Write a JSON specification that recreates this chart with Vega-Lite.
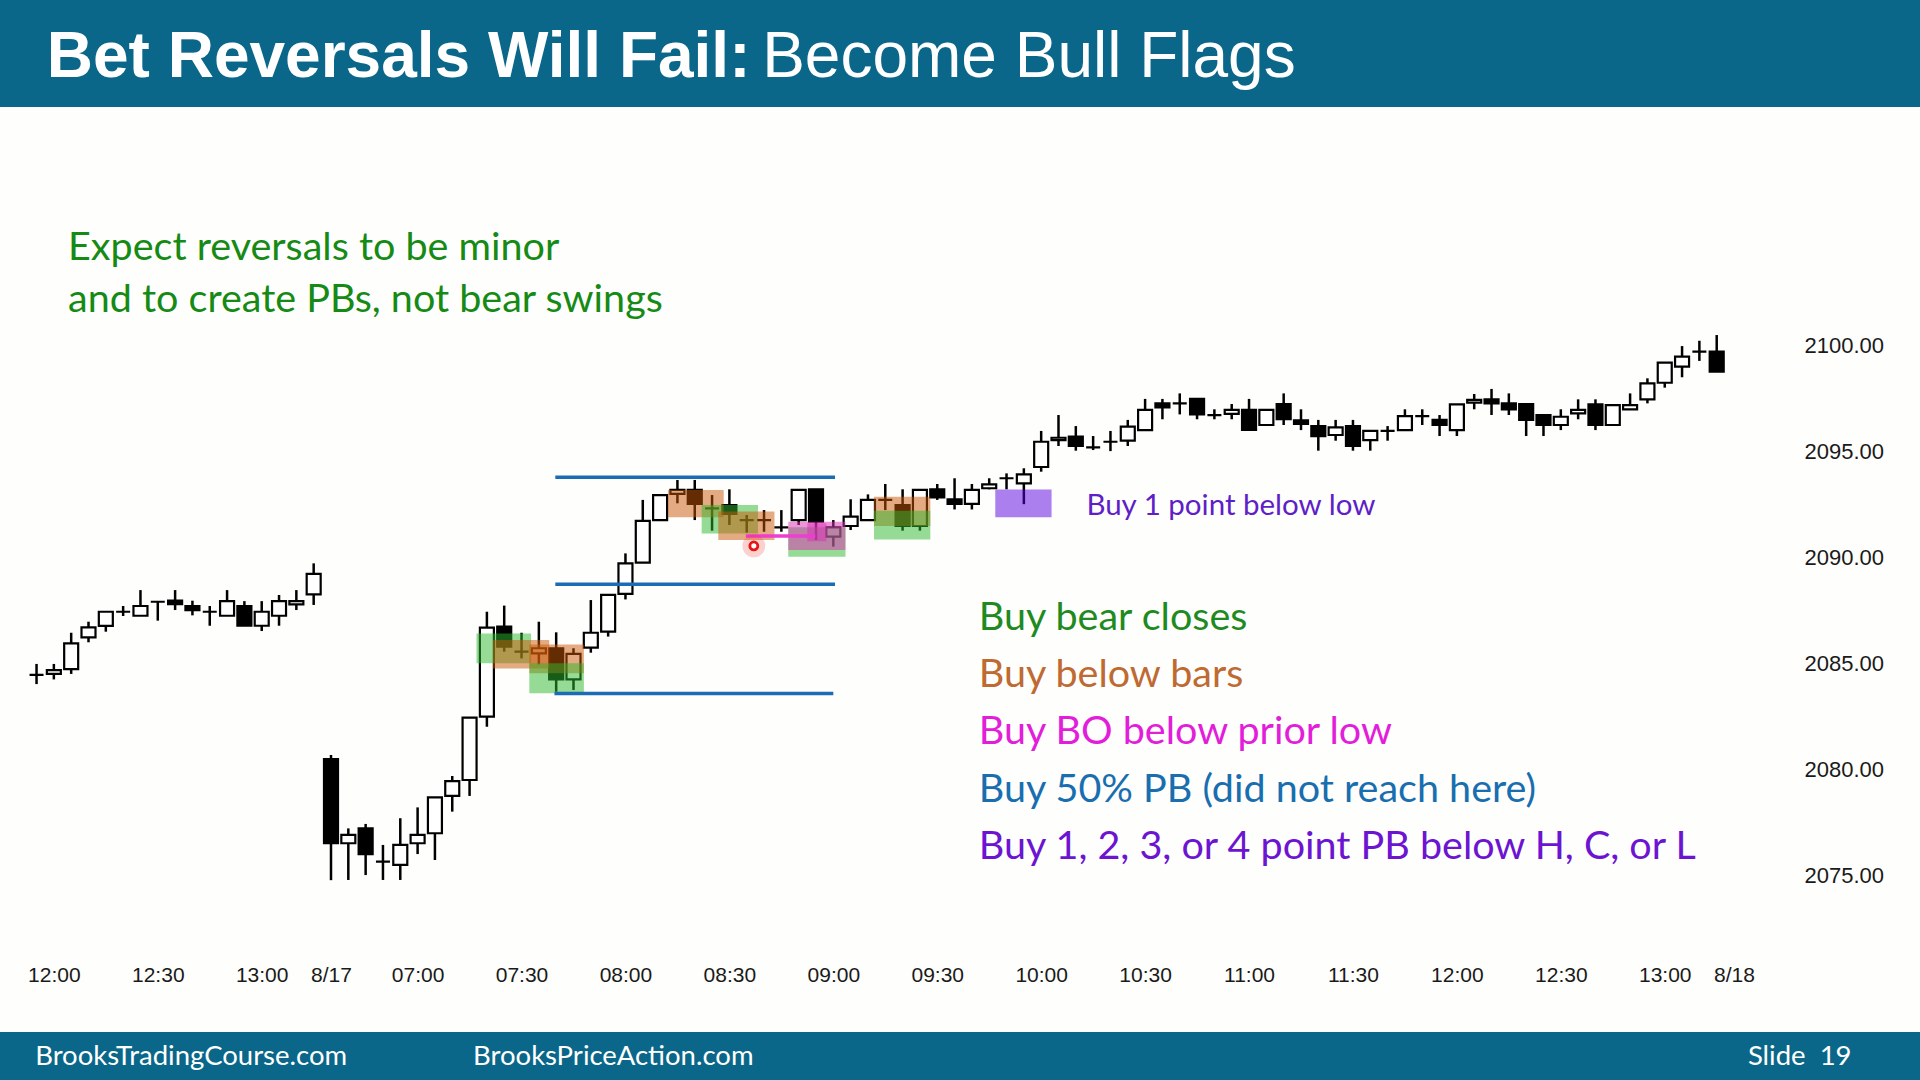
{
  "$schema": "https://vega.github.io/schema/vega-lite/v6.json",
  "width": 1920,
  "height": 925,
  "autosize": {"type": "none"},
  "padding": {"left": 0, "top": 107, "right": 0, "bottom": 48},
  "background": "#0A6789",
  "view": {"fill": "#FEFEFC", "stroke": null},
  "datasets": {
    "bars": [
      {"i":0,"o":2084.45,"h":2084.97,"l":2084.02,"c":2084.45},
      {"i":1,"o":2084.50,"h":2084.97,"l":2084.24,"c":2084.68},
      {"i":2,"o":2084.73,"h":2086.44,"l":2084.50,"c":2085.94},
      {"i":3,"o":2086.22,"h":2086.96,"l":2085.99,"c":2086.69},
      {"i":4,"o":2086.76,"h":2087.43,"l":2086.49,"c":2087.43},
      {"i":5,"o":2087.43,"h":2087.70,"l":2087.23,"c":2087.43},
      {"i":6,"o":2087.24,"h":2088.45,"l":2087.24,"c":2087.70},
      {"i":7,"o":2087.90,"h":2087.90,"l":2087.01,"c":2087.90},
      {"i":8,"o":2087.95,"h":2088.45,"l":2087.51,"c":2087.79},
      {"i":9,"o":2087.70,"h":2087.95,"l":2087.26,"c":2087.51},
      {"i":10,"o":2087.43,"h":2087.70,"l":2086.77,"c":2087.43},
      {"i":11,"o":2087.24,"h":2088.45,"l":2087.24,"c":2087.93},
      {"i":12,"o":2087.70,"h":2087.93,"l":2086.77,"c":2086.77},
      {"i":13,"o":2086.77,"h":2087.93,"l":2086.52,"c":2087.43},
      {"i":14,"o":2087.24,"h":2088.22,"l":2086.77,"c":2087.93},
      {"i":15,"o":2087.78,"h":2088.45,"l":2087.51,"c":2087.93},
      {"i":16,"o":2088.25,"h":2089.71,"l":2087.75,"c":2089.21},
      {"i":17,"o":2080.48,"h":2080.68,"l":2074.78,"c":2076.52},
      {"i":18,"o":2076.52,"h":2077.22,"l":2074.79,"c":2076.91},
      {"i":19,"o":2077.22,"h":2077.43,"l":2075.02,"c":2076.01},
      {"i":20,"o":2075.65,"h":2076.44,"l":2074.79,"c":2075.65},
      {"i":21,"o":2075.50,"h":2077.70,"l":2074.79,"c":2076.44},
      {"i":22,"o":2076.52,"h":2078.21,"l":2076.01,"c":2076.91},
      {"i":23,"o":2076.99,"h":2078.68,"l":2075.73,"c":2078.68},
      {"i":24,"o":2078.75,"h":2079.69,"l":2078.01,"c":2079.45},
      {"i":25,"o":2079.50,"h":2082.44,"l":2078.75,"c":2082.44},
      {"i":26,"o":2082.49,"h":2087.43,"l":2082.01,"c":2086.68},
      {"i":27,"o":2086.73,"h":2087.72,"l":2085.55,"c":2085.78},
      {"i":28,"o":2085.55,"h":2086.44,"l":2085.23,"c":2085.55},
      {"i":29,"o":2085.47,"h":2086.96,"l":2084.95,"c":2085.71},
      {"i":30,"o":2085.71,"h":2086.46,"l":2083.66,"c":2084.24},
      {"i":31,"o":2084.24,"h":2085.71,"l":2083.74,"c":2085.44},
      {"i":32,"o":2085.74,"h":2087.98,"l":2085.50,"c":2086.44},
      {"i":33,"o":2086.49,"h":2088.22,"l":2086.26,"c":2088.22},
      {"i":34,"o":2088.27,"h":2090.18,"l":2088.01,"c":2089.71},
      {"i":35,"o":2089.74,"h":2092.70,"l":2089.74,"c":2091.71},
      {"i":36,"o":2091.75,"h":2092.93,"l":2091.75,"c":2092.93},
      {"i":37,"o":2092.98,"h":2093.64,"l":2092.54,"c":2093.17},
      {"i":38,"o":2093.17,"h":2093.64,"l":2091.75,"c":2092.51},
      {"i":39,"o":2092.30,"h":2092.93,"l":2091.25,"c":2092.30},
      {"i":40,"o":2092.46,"h":2093.20,"l":2091.52,"c":2092.04},
      {"i":41,"o":2091.75,"h":2091.99,"l":2091.16,"c":2091.75},
      {"i":42,"o":2091.75,"h":2092.22,"l":2091.20,"c":2091.75},
      {"i":43,"o":2091.41,"h":2092.22,"l":2091.20,"c":2091.41},
      {"i":44,"o":2091.75,"h":2093.17,"l":2091.52,"c":2093.17},
      {"i":45,"o":2093.20,"h":2093.20,"l":2090.81,"c":2091.67},
      {"i":46,"o":2090.97,"h":2091.75,"l":2090.50,"c":2091.41},
      {"i":47,"o":2091.47,"h":2092.73,"l":2091.28,"c":2091.91},
      {"i":48,"o":2091.75,"h":2092.96,"l":2091.75,"c":2092.70},
      {"i":49,"o":2092.70,"h":2093.45,"l":2092.22,"c":2092.70},
      {"i":50,"o":2092.46,"h":2093.20,"l":2091.25,"c":2091.47},
      {"i":51,"o":2091.47,"h":2093.17,"l":2091.25,"c":2093.17},
      {"i":52,"o":2093.20,"h":2093.45,"l":2092.70,"c":2092.82},
      {"i":53,"o":2092.73,"h":2093.72,"l":2092.25,"c":2092.51},
      {"i":54,"o":2092.51,"h":2093.45,"l":2092.25,"c":2093.17},
      {"i":55,"o":2093.25,"h":2093.72,"l":2093.20,"c":2093.43},
      {"i":56,"o":2093.72,"h":2093.95,"l":2093.20,"c":2093.72},
      {"i":57,"o":2093.48,"h":2094.19,"l":2092.50,"c":2093.90},
      {"i":58,"o":2094.25,"h":2095.95,"l":2094.03,"c":2095.44},
      {"i":59,"o":2095.52,"h":2096.70,"l":2095.24,"c":2095.63},
      {"i":60,"o":2095.68,"h":2096.18,"l":2095.02,"c":2095.24},
      {"i":61,"o":2095.18,"h":2095.71,"l":2095.05,"c":2095.18},
      {"i":62,"o":2095.44,"h":2095.95,"l":2095.00,"c":2095.44},
      {"i":63,"o":2095.49,"h":2096.47,"l":2095.24,"c":2096.15},
      {"i":64,"o":2095.99,"h":2097.46,"l":2095.99,"c":2096.94},
      {"i":65,"o":2097.25,"h":2097.46,"l":2096.50,"c":2097.06},
      {"i":66,"o":2097.25,"h":2097.72,"l":2096.73,"c":2097.25},
      {"i":67,"o":2097.46,"h":2097.46,"l":2096.50,"c":2096.73},
      {"i":68,"o":2096.70,"h":2096.97,"l":2096.50,"c":2096.70},
      {"i":69,"o":2096.75,"h":2097.22,"l":2096.50,"c":2096.94},
      {"i":70,"o":2096.94,"h":2097.46,"l":2096.00,"c":2096.00},
      {"i":71,"o":2096.23,"h":2096.94,"l":2096.23,"c":2096.94},
      {"i":72,"o":2097.22,"h":2097.72,"l":2096.23,"c":2096.50},
      {"i":73,"o":2096.45,"h":2096.97,"l":2095.99,"c":2096.28},
      {"i":74,"o":2096.18,"h":2096.47,"l":2095.02,"c":2095.71},
      {"i":75,"o":2095.76,"h":2096.47,"l":2095.49,"c":2096.12},
      {"i":76,"o":2096.18,"h":2096.47,"l":2095.02,"c":2095.24},
      {"i":77,"o":2095.52,"h":2095.95,"l":2095.02,"c":2095.95},
      {"i":78,"o":2095.95,"h":2096.18,"l":2095.49,"c":2095.95},
      {"i":79,"o":2095.99,"h":2096.97,"l":2095.99,"c":2096.65},
      {"i":80,"o":2096.65,"h":2096.97,"l":2096.23,"c":2096.65},
      {"i":81,"o":2096.47,"h":2096.70,"l":2095.71,"c":2096.23},
      {"i":82,"o":2095.99,"h":2097.20,"l":2095.71,"c":2097.20},
      {"i":83,"o":2097.28,"h":2097.69,"l":2096.97,"c":2097.41},
      {"i":84,"o":2097.44,"h":2097.93,"l":2096.70,"c":2097.25},
      {"i":85,"o":2097.25,"h":2097.72,"l":2096.70,"c":2096.97},
      {"i":86,"o":2097.22,"h":2097.22,"l":2095.71,"c":2096.47},
      {"i":87,"o":2096.70,"h":2096.70,"l":2095.71,"c":2096.23},
      {"i":88,"o":2096.23,"h":2096.97,"l":2095.99,"c":2096.62},
      {"i":89,"o":2096.78,"h":2097.44,"l":2096.50,"c":2096.94},
      {"i":90,"o":2097.20,"h":2097.44,"l":2095.99,"c":2096.23},
      {"i":91,"o":2096.23,"h":2097.17,"l":2096.23,"c":2097.17},
      {"i":92,"o":2096.97,"h":2097.72,"l":2096.97,"c":2097.17},
      {"i":93,"o":2097.44,"h":2098.43,"l":2097.25,"c":2098.19},
      {"i":94,"o":2098.22,"h":2099.17,"l":2097.99,"c":2099.17},
      {"i":95,"o":2098.98,"h":2099.95,"l":2098.48,"c":2099.45},
      {"i":96,"o":2099.69,"h":2100.20,"l":2099.25,"c":2099.69},
      {"i":97,"o":2099.69,"h":2100.47,"l":2098.74,"c":2098.74}
    ],
    "boxes": [
      {"i0":25.4,"i1":28.55,"lo":2085.0,"hi":2086.41,"kind":"bear"},
      {"i0":26.35,"i1":29.6,"lo":2084.76,"hi":2086.1,"kind":"below"},
      {"i0":28.45,"i1":31.6,"lo":2084.53,"hi":2085.89,"kind":"below"},
      {"i0":28.45,"i1":31.6,"lo":2083.59,"hi":2085.0,"kind":"bear"},
      {"i0":36.45,"i1":39.67,"lo":2091.88,"hi":2093.17,"kind":"below"},
      {"i0":38.4,"i1":41.65,"lo":2091.12,"hi":2092.46,"kind":"bear"},
      {"i0":39.36,"i1":42.6,"lo":2090.81,"hi":2092.15,"kind":"below"},
      {"i0":43.4,"i1":46.7,"lo":2090.02,"hi":2091.41,"kind":"bear"},
      {"i0":43.4,"i1":46.7,"lo":2090.34,"hi":2091.67,"kind":"bo"},
      {"i0":44.5,"i1":45.6,"lo":2090.75,"hi":2091.6,"kind":"bo"},
      {"i0":48.35,"i1":51.6,"lo":2091.47,"hi":2092.85,"kind":"below"},
      {"i0":48.35,"i1":51.6,"lo":2090.84,"hi":2092.19,"kind":"bear"},
      {"i0":55.35,"i1":58.6,"lo":2091.88,"hi":2093.19,"kind":"pb"}
    ],
    "lines": [
      {"i0":29.95,"i1":46.1,"p":2093.77,"kind":"range"},
      {"i0":29.95,"i1":46.1,"p":2088.72,"kind":"range"},
      {"i0":29.9,"i1":46.0,"p":2083.58,"kind":"range"},
      {"i0":40.95,"i1":44.96,"p":2091.0,"kind":"bo"}
    ],
    "marker": [
      {"i":41.41,"p":2090.53}
    ],
    "header": [
      {"i":0.59,"p":2112.63,"text":"Bet Reversals Will Fail:","part":"lead"},
      {"i":41.89,"p":2112.63,"text":"Become Bull Flags","part":"rest"}
    ],
    "notes": [
      {"i":1.82,"p":2104.55,"text":"Expect reversals to be minor","kind":"expect"},
      {"i":1.82,"p":2102.12,"text":"and to create PBs, not bear swings","kind":"expect"},
      {"i":54.4,"p":2087.12,"text":"Buy bear closes","kind":"bear"},
      {"i":54.4,"p":2084.46,"text":"Buy below bars","kind":"below"},
      {"i":54.4,"p":2081.75,"text":"Buy BO below prior low","kind":"bo"},
      {"i":54.4,"p":2079.04,"text":"Buy 50% PB (did not reach here)","kind":"half"},
      {"i":54.4,"p":2076.33,"text":"Buy 1, 2, 3, or 4 point PB below H, C, or L","kind":"pb"},
      {"i":60.61,"p":2092.43,"text":"Buy 1 point below low","kind":"pb1"}
    ],
    "footer": [
      {"i":-0.08,"p":2066.47,"text":"BrooksTradingCourse.com"},
      {"i":25.2,"p":2066.47,"text":"BrooksPriceAction.com"},
      {"i":98.8,"p":2066.47,"text":"Slide\u00a0 19"}
    ]
  },
  "layer": [
    {
      "data": {"name": "bars"},
      "mark": {"type": "rule", "stroke": "#000000", "strokeWidth": 2.5},
      "encoding": {
        "x": {
          "field": "i", "type": "quantitative",
          "scale": {"domain": [-1.8206, 108.448], "nice": false, "zero": false},
          "axis": {
            "title": null, "orient": "bottom", "offset": -57,
            "values": [1,7,13,17,22,28,34,40,46,52,58,64,70,76,82,88,94,98],
            "labelExpr": "['12:00','12:30','13:00','8/17','07:00','07:30','08:00','08:30','09:00','09:30','10:00','10:30','11:00','11:30','12:00','12:30','13:00','8/18'][indexof([1,7,13,17,22,28,34,40,46,52,58,64,70,76,82,88,94,98], datum.value)]",
            "labelOverlap": false, "labelBound": false, "labelFlush": false,
            "ticks": false, "tickSize": 0, "domain": false, "grid": false,
            "labelPadding": 0, "labelBaseline": "middle",
            "labelFont": "Liberation Sans", "labelFontSize": 21, "labelColor": "#1A1A1A"
          }
        },
        "y": {
          "field": "l", "type": "quantitative",
          "scale": {"domain": [2067.625, 2111.216], "nice": false, "zero": false},
          "axis": {
            "title": null, "orient": "right", "offset": -116,
            "values": [2075, 2080, 2085, 2090, 2095, 2100],
            "format": ".2f",
            "labelOverlap": false, "labelBound": false, "labelFlush": false,
            "ticks": false, "tickSize": 0, "domain": false, "grid": false,
            "labelPadding": 0, "labelAlign": "left", "labelBaseline": "middle",
            "labelFont": "Liberation Sans", "labelFontSize": 22, "labelColor": "#1A1A1A"
          }
        },
        "y2": {"field": "h"}
      }
    },
    {
      "data": {"name": "bars"},
      "mark": {"type": "bar", "width": 14, "stroke": "#000000", "strokeWidth": 2.2},
      "encoding": {
        "x": {"field": "i", "type": "quantitative", "scale": {"domain": [-1.8206, 108.448], "nice": false, "zero": false}, "axis": {"title": null}},
        "y": {"field": "o", "type": "quantitative", "scale": {"domain": [2067.625, 2111.216], "nice": false, "zero": false}, "axis": {"title": null}},
        "y2": {"field": "c"},
        "fill": {"condition": {"test": "datum.c < datum.o", "value": "#000000"}, "value": "#FFFFFF"}
      }
    },
    {
      "data": {"name": "boxes"},
      "mark": {"type": "rect", "fillOpacity": 0.5, "strokeWidth": 0},
      "encoding": {
        "x": {"field": "i0", "type": "quantitative", "scale": {"domain": [-1.8206, 108.448], "nice": false, "zero": false}, "axis": {"title": null}},
        "x2": {"field": "i1"},
        "y": {"field": "lo", "type": "quantitative", "scale": {"domain": [2067.625, 2111.216], "nice": false, "zero": false}, "axis": {"title": null}},
        "y2": {"field": "hi"},
        "fill": {"field": "kind", "type": "nominal", "legend": null,
          "scale": {"domain": ["bear", "below", "bo", "pb"], "range": ["#2DB82D", "#C95808", "#DE2BB8", "#5A00E1"]}}
      }
    },
    {
      "data": {"name": "lines"},
      "mark": {"type": "rule", "strokeWidth": 3.5},
      "encoding": {
        "x": {"field": "i0", "type": "quantitative", "scale": {"domain": [-1.8206, 108.448], "nice": false, "zero": false}, "axis": {"title": null}},
        "x2": {"field": "i1"},
        "y": {"field": "p", "type": "quantitative", "scale": {"domain": [2067.625, 2111.216], "nice": false, "zero": false}, "axis": {"title": null}},
        "stroke": {"field": "kind", "type": "nominal", "legend": null,
          "scale": {"domain": ["range", "bo"], "range": ["#1C6CB3", "#EE3DCF"]}}
      }
    },
    {
      "data": {"name": "marker"},
      "mark": {"type": "point", "shape": "circle", "filled": true, "fill": "#F03030", "opacity": 0.22, "size": 520, "strokeWidth": 0},
      "encoding": {
        "x": {"field": "i", "type": "quantitative", "scale": {"domain": [-1.8206, 108.448], "nice": false, "zero": false}, "axis": {"title": null}},
        "y": {"field": "p", "type": "quantitative", "scale": {"domain": [2067.625, 2111.216], "nice": false, "zero": false}, "axis": {"title": null}}
      }
    },
    {
      "data": {"name": "marker"},
      "mark": {"type": "point", "shape": "circle", "filled": false, "fill": "#FFFFFF", "fillOpacity": 1, "stroke": "#E81414", "strokeWidth": 2.8, "opacity": 1, "size": 64},
      "encoding": {
        "x": {"field": "i", "type": "quantitative", "scale": {"domain": [-1.8206, 108.448], "nice": false, "zero": false}, "axis": {"title": null}},
        "y": {"field": "p", "type": "quantitative", "scale": {"domain": [2067.625, 2111.216], "nice": false, "zero": false}, "axis": {"title": null}}
      }
    },
    {
      "data": {"name": "notes"},
      "transform": [{"filter": "datum.kind != 'pb1'"}],
      "mark": {"type": "text", "align": "left", "baseline": "middle", "font": "Lato", "fontSize": 39.5},
      "encoding": {
        "x": {"field": "i", "type": "quantitative", "scale": {"domain": [-1.8206, 108.448], "nice": false, "zero": false}, "axis": {"title": null}},
        "y": {"field": "p", "type": "quantitative", "scale": {"domain": [2067.625, 2111.216], "nice": false, "zero": false}, "axis": {"title": null}},
        "text": {"field": "text"},
        "color": {"field": "kind", "type": "nominal", "legend": null,
          "scale": {"domain": ["expect", "bear", "below", "bo", "half", "pb", "pb1"],
                    "range": ["#158A15", "#1F8A1F", "#BE6A32", "#E21EDA", "#196EAF", "#6C14D2", "#5F1EC8"]}}
      }
    },
    {
      "data": {"name": "notes"},
      "transform": [{"filter": "datum.kind == 'pb1'"}],
      "mark": {"type": "text", "align": "left", "baseline": "middle", "font": "Lato", "fontSize": 29.5},
      "encoding": {
        "x": {"field": "i", "type": "quantitative", "scale": {"domain": [-1.8206, 108.448], "nice": false, "zero": false}, "axis": {"title": null}},
        "y": {"field": "p", "type": "quantitative", "scale": {"domain": [2067.625, 2111.216], "nice": false, "zero": false}, "axis": {"title": null}},
        "text": {"field": "text"},
        "color": {"field": "kind", "type": "nominal", "legend": null,
          "scale": {"domain": ["expect", "bear", "below", "bo", "half", "pb", "pb1"],
                    "range": ["#158A15", "#1F8A1F", "#BE6A32", "#E21EDA", "#196EAF", "#6C14D2", "#5F1EC8"]}}
      }
    },
    {
      "data": {"name": "header"},
      "transform": [{"filter": "datum.part == 'lead'"}],
      "mark": {"type": "text", "align": "left", "baseline": "alphabetic", "font": "Liberation Sans", "fontSize": 64, "fontWeight": "bold", "fill": "#FFFFFF"},
      "encoding": {
        "x": {"field": "i", "type": "quantitative", "scale": {"domain": [-1.8206, 108.448], "nice": false, "zero": false}, "axis": {"title": null}},
        "y": {"field": "p", "type": "quantitative", "scale": {"domain": [2067.625, 2111.216], "nice": false, "zero": false}, "axis": {"title": null}},
        "text": {"field": "text"}
      }
    },
    {
      "data": {"name": "header"},
      "transform": [{"filter": "datum.part == 'rest'"}],
      "mark": {"type": "text", "align": "left", "baseline": "alphabetic", "font": "Liberation Sans", "fontSize": 64, "fontWeight": "normal", "fill": "#FFFFFF"},
      "encoding": {
        "x": {"field": "i", "type": "quantitative", "scale": {"domain": [-1.8206, 108.448], "nice": false, "zero": false}, "axis": {"title": null}},
        "y": {"field": "p", "type": "quantitative", "scale": {"domain": [2067.625, 2111.216], "nice": false, "zero": false}, "axis": {"title": null}},
        "text": {"field": "text"}
      }
    },
    {
      "data": {"name": "footer"},
      "mark": {"type": "text", "align": "left", "baseline": "middle", "font": "Lato", "fontSize": 27.5, "fill": "#FFFFFF"},
      "encoding": {
        "x": {"field": "i", "type": "quantitative", "scale": {"domain": [-1.8206, 108.448], "nice": false, "zero": false}, "axis": {"title": null}},
        "y": {"field": "p", "type": "quantitative", "scale": {"domain": [2067.625, 2111.216], "nice": false, "zero": false}, "axis": {"title": null}},
        "text": {"field": "text"}
      }
    }
  ]
}
